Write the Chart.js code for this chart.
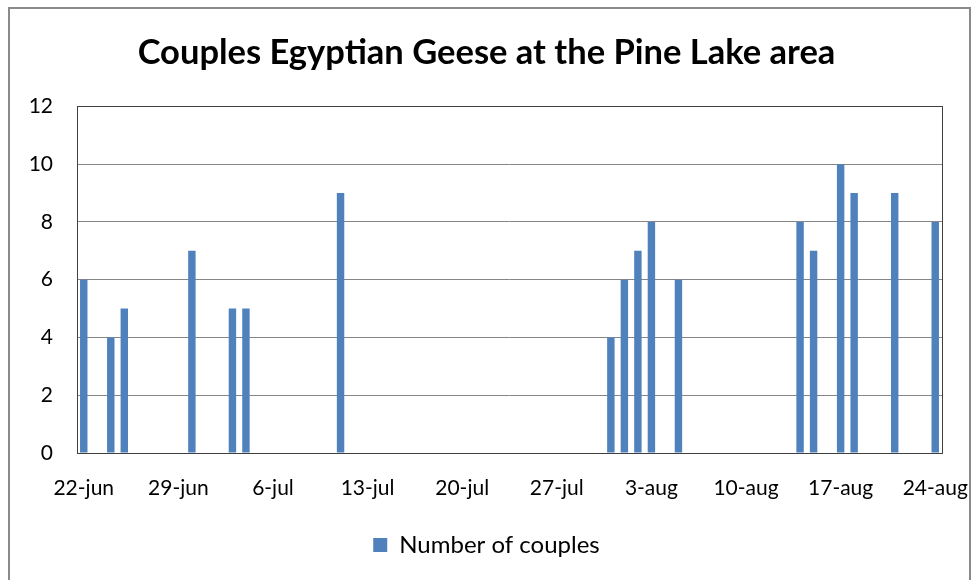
<!DOCTYPE html>
<html>
<head>
<meta charset="utf-8">
<script src="https://cdn.jsdelivr.net/npm/chart.js@4"></script>
<style>
  html, body { margin: 0; padding: 0; background: #fff; }
  #wrap { width: 973px; height: 580px; }
</style>
</head>
<body>
<div id="wrap"><canvas id="chart" width="973" height="580"></canvas></div>
<script>
// observation days and number of couples counted on each
const obsDays = ['22-jun', '24-jun', '25-jun', '30-jun', '3-jul', '4-jul', '11-jul',
  '31-jul', '1-aug', '2-aug', '3-aug', '5-aug',
  '14-aug', '15-aug', '17-aug', '18-aug', '21-aug', '24-aug'];
const couples = [6, 4, 5, 7, 5, 5, 9, 4, 6, 7, 8, 6, 8, 7, 10, 9, 9, 8];

// labels shown on the date axis
const tickLabels = ['22-jun', '29-jun', '6-jul', '13-jul', '20-jul', '27-jul',
  '3-aug', '10-aug', '17-aug', '24-aug'];
const monthNames = ['jan', 'feb', 'mar', 'apr', 'may', 'jun', 'jul', 'aug', 'sep', 'oct', 'nov', 'dec'];

// every day from 22-jun to 24-aug, so the axis works like a date axis
const allDays = [];
for (let i = 0; i < 64; i++) {
  const d = new Date(2013, 5, 22 + i);
  allDays.push(d.getDate() + '-' + monthNames[d.getMonth()]);
}
const dayValues = allDays.map(day => {
  const idx = obsDays.indexOf(day);
  return idx >= 0 ? couples[idx] : null;
});

const FONT = "Lato, 'Open Sans', sans-serif";

// white background, outer frame and plot area box
const framePlugin = {
  id: 'frame',
  beforeDraw(chart) {
    const ctx = chart.ctx;
    ctx.save();
    ctx.fillStyle = '#fff';
    ctx.fillRect(0, 0, chart.width, chart.height);
    ctx.strokeStyle = '#8a8a8a';
    ctx.lineWidth = 2;
    ctx.strokeRect(9, 8, 961, 600);
    ctx.restore();
  },
  afterDraw(chart) {
    const a = chart.chartArea;
    const ctx = chart.ctx;
    ctx.save();
    ctx.strokeStyle = '#404040';
    ctx.lineWidth = 1;
    ctx.strokeRect(Math.round(a.left) + 0.5, Math.round(a.top) + 0.5,
      Math.round(a.right - a.left), Math.round(a.bottom - a.top));
    ctx.restore();
  }
};

const ctx = document.getElementById('chart').getContext('2d');
new Chart(ctx, {
  type: 'bar',
  data: {
    labels: allDays,
    datasets: [{
      label: 'Number of couples',
      data: dayValues,
      backgroundColor: '#4F81BD',
      borderWidth: 0,
      barPercentage: 1,
      categoryPercentage: 0.55
    }]
  },
  options: {
    responsive: false,
    animation: false,
    layout: { padding: { left: 0, right: 0, top: 0, bottom: 13 } },
    plugins: {
      title: {
        display: true,
        text: 'Couples Egyptian Geese at the Pine Lake area',
        color: '#000',
        font: { family: FONT, size: 34.5, weight: 'bold' },
        padding: { top: 32, bottom: 33 }
      },
      legend: {
        position: 'bottom',
        labels: {
          color: '#000',
          font: { family: FONT, size: 24 },
          boxWidth: 14,
          boxHeight: 14,
          padding: 10
        }
      },
      tooltip: { enabled: false }
    },
    scales: {
      x: {
        grid: { display: false },
        border: { display: false },
        ticks: {
          autoSkip: false,
          maxRotation: 0,
          color: '#000',
          font: { family: FONT, size: 21 },
          padding: 15,
          callback: function (value) {
            const lab = this.getLabelForValue(value);
            return tickLabels.includes(lab) ? lab : null;
          }
        },
        afterFit(scale) {
          scale.height = 70;
          scale.paddingLeft = 0;
          scale.paddingRight = 31;
        }
      },
      y: {
        min: 0,
        max: 12,
        ticks: {
          stepSize: 2,
          color: '#000',
          font: { family: FONT, size: 21 },
          padding: 24
        },
        grid: { color: '#868686', drawTicks: false },
        border: { display: false },
        afterFit(scale) { scale.width = 77; }
      }
    }
  },
  plugins: [framePlugin]
});
</script>
</body>
</html>
